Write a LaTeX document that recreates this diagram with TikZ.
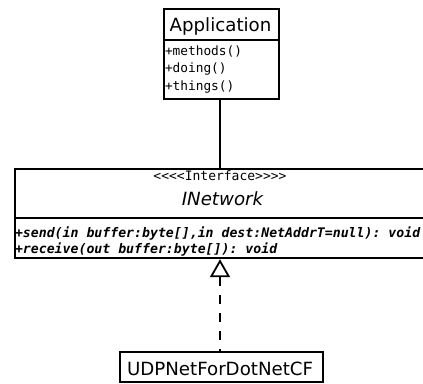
\documentclass[tikz,border=0pt]{standalone}
\usepackage{fontspec}
\setmainfont{DejaVu Sans}
\setmonofont{DejaVu Sans Mono}
\usetikzlibrary{arrows.meta}
\begin{document}
\begin{tikzpicture}[x=1pt,y=1pt,
  umlbox/.style={draw, line width=2.2pt, inner sep=0pt, anchor=north west},
  titletext/.style={anchor=base, inner sep=0pt, font=\fontsize{18.2}{20}\selectfont},
  memtext/.style={anchor=base west, inner sep=0pt, font=\ttfamily\fontsize{12.8}{15}\selectfont},
  optext/.style={anchor=base west, inner sep=0pt, font=\ttfamily\bfseries\itshape\fontsize{13.2}{15}\selectfont},
  stereo/.style={anchor=base, inner sep=0pt, font=\ttfamily\fontsize{13}{15}\selectfont},
  conn/.style={line width=2.2pt},
  realize/.style={line width=2.2pt, dash pattern=on 9.5pt off 8.5pt, dash phase=7.5pt,
    -{Triangle[open, length=18pt, width=20pt, line width=1.8pt]}}
]
\clip (0,0) rectangle (423,-383);
\fill[white] (0,0) rectangle (423,-383);

% Application class
\node[umlbox, minimum width=115pt, minimum height=31pt] (apptitle) at (163,-8) {};
\node[umlbox, minimum width=115pt, minimum height=59pt] (appmeth) at (163,-39) {};
\node[titletext] (appname) at (220.5,-31.7) {Application};
\node[memtext] (m1) at (164.8,-55) {+methods()};
\node[memtext] (m2) at (164.8,-72.5) {+doing()};
\node[memtext] (m3) at (164.8,-90) {+things()};

% INetwork interface
\node[umlbox, minimum width=416pt, minimum height=49pt] (nettitle) at (13.5,-167.5) {};
\node[umlbox, minimum width=416pt, minimum height=40.5pt] (netops) at (13.5,-216.5) {};
\node[stereo] (st) at (220,-180.5) {<<<<Interface>>>>};
\node[titletext, font=\itshape\fontsize{18.2}{20}\selectfont] (netname) at (222.5,-205) {INetwork};
\node[optext] (o1) at (14.8,-237) {+send(in buffer:byte[],in dest:NetAddrT=null): void};
\node[optext] (o2) at (14.8,-253.5) {+receive(out buffer:byte[]): void};

% UDPNetForDotNetCF class
\node[umlbox, minimum width=203pt, minimum height=30.5pt] (udp) at (118.5,-350.7) {};
\node[titletext] (udpname) at (220.1,-375) {UDPNetForDotNetCF};

% connectors
\coordinate (a1) at (appmeth.south -| 220,0);
\coordinate (u1) at (udp.north -| 220,0);
\draw[conn] (a1) -- (a1 |- nettitle.north);
\draw[realize] (u1) -- (u1 |- netops.south);
\end{tikzpicture}
\end{document}
